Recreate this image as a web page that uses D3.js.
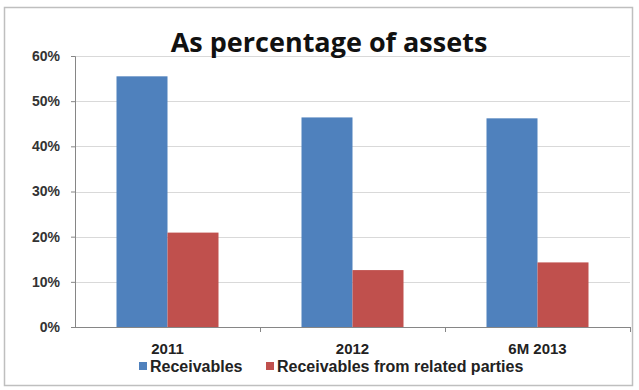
<!DOCTYPE html>
<html>
<head>
<meta charset="utf-8">
<script src="https://cdn.jsdelivr.net/npm/d3@7"></script>
<style>
  html, body { margin: 0; padding: 0; background: #fff; }
  svg { display: block; }
</style>
</head>
<body>
<svg id="chart" width="639" height="390"></svg>
<script>
// Receivables as a share of total assets
const categories = ["2011", "2012", "6M 2013"];
const seriesNames = ["Receivables", "Receivables from related parties"];
const receivables = [0.555, 0.464, 0.462];
const relatedParties = [0.209, 0.126, 0.143];
const yTicks = [0, 0.1, 0.2, 0.3, 0.4, 0.5, 0.6];
const colors = ["#4F81BD", "#C0504D"];

const svg = d3.select("#chart");
const W = 639, H = 390;
const margin = { left: 75, right: 9, top: 56, bottom: 63 };
const plotW = W - margin.left - margin.right;
const plotH = H - margin.top - margin.bottom;
const font = "'Liberation Sans', Arial, sans-serif";

// outer chart frame
svg.append("rect")
  .attr("x", 4.5).attr("y", 7.5)
  .attr("width", 628).attr("height", 378)
  .attr("fill", "#fff")
  .attr("stroke", "#bfbfbf").attr("stroke-width", 1.5);

const g = svg.append("g").attr("transform", `translate(${margin.left},${margin.top})`);

const x0 = d3.scaleBand().domain(categories).range([0, plotW]).paddingInner(0).paddingOuter(0);
const x1 = d3.scaleBand().domain(seriesNames).range([0, 102]);
const y = d3.scaleLinear().domain([0, 0.6]).range([plotH, 0]);

// gridlines
g.append("g")
  .selectAll("line")
  .data(yTicks.filter(t => t > 0))
  .join("line")
  .attr("x1", 0).attr("x2", plotW)
  .attr("y1", d => Math.round(y(d)) + 0.5).attr("y2", d => Math.round(y(d)) + 0.5)
  .attr("stroke", "#d9d9d9").attr("stroke-width", 1);

// bars
const rows = categories.map((c, i) => ({ cat: c, vals: [receivables[i], relatedParties[i]] }));
const groups = g.append("g").selectAll("g")
  .data(rows)
  .join("g")
  .attr("transform", d => `translate(${x0(d.cat) + (x0.bandwidth() - 102) / 2},0)`);
groups.selectAll("rect")
  .data(d => d.vals.map((v, k) => ({ name: seriesNames[k], v, k })))
  .join("rect")
  .attr("x", d => x1(d.name))
  .attr("width", x1.bandwidth())
  .attr("y", d => y(d.v))
  .attr("height", d => plotH - y(d.v))
  .attr("fill", d => colors[d.k]);

// y axis
const yAxis = g.append("g")
  .call(d3.axisLeft(y).tickValues(yTicks).tickFormat(d3.format(".0%")).tickSize(4).tickPadding(11));
yAxis.select(".domain").attr("stroke", "#868686");
yAxis.selectAll(".tick line").attr("stroke", "#868686");
yAxis.selectAll("text")
  .attr("font-family", font)
  .attr("font-size", 14).attr("font-weight", "bold").attr("fill", "#333");

// x axis with ticks between categories
const xAxis = g.append("g").attr("transform", `translate(0,${plotH})`);
xAxis.append("line")
  .attr("x1", 0).attr("x2", plotW).attr("y1", 0.5).attr("y2", 0.5)
  .attr("stroke", "#868686");
xAxis.selectAll("line.sep")
  .data(categories)
  .join("line").attr("class", "sep")
  .attr("x1", d => x0(d) + x0.bandwidth() + 0.5).attr("x2", d => x0(d) + x0.bandwidth() + 0.5)
  .attr("y1", 0).attr("y2", 5)
  .attr("stroke", "#868686");
xAxis.selectAll("text")
  .data(categories)
  .join("text")
  .attr("x", d => x0(d) + x0.bandwidth() / 2)
  .attr("y", 354 - H + margin.bottom)
  .attr("text-anchor", "middle")
  .attr("font-family", font)
  .attr("font-size", 15).attr("font-weight", "bold").attr("fill", "#222")
  .text(d => d);

// title
svg.append("text")
  .attr("x", 329).attr("y", 52)
  .attr("text-anchor", "middle")
  .attr("font-family", "'Open Sans', sans-serif")
  .attr("font-size", 27).attr("font-weight", "bold").attr("fill", "#111")
  .text("As percentage of assets");

// legend
const legendItems = [{ name: seriesNames[0], x: 139 }, { name: seriesNames[1], x: 266 }];
const lg = svg.append("g");
legendItems.forEach((it, k) => {
  lg.append("rect").attr("x", it.x).attr("y", 362).attr("width", 8).attr("height", 8).attr("fill", colors[k]);
  lg.append("text")
    .attr("x", it.x + 11).attr("y", 372)
    .attr("font-family", font)
    .attr("font-size", 16).attr("font-weight", "bold").attr("fill", "#222")
    .text(it.name);
});
</script>
</body>
</html>
